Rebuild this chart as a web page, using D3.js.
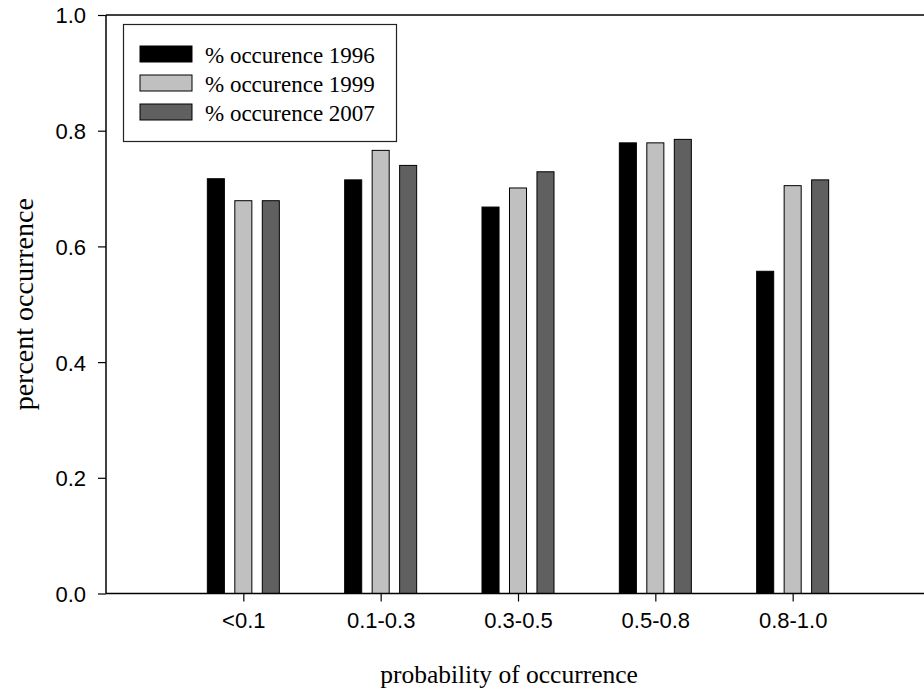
<!DOCTYPE html>
<meta charset="utf-8">
<title>percent occurrence</title>
<style>
body { margin: 0; background: #fff; }
svg { display: block; }
</style>
<body>
<div id="graph"></div>
</body>
<script src="https://cdn.jsdelivr.net/npm/d3@7"></script>
<script>

var categories = ['<0.1', '0.1-0.3', '0.3-0.5', '0.5-0.8', '0.8-1.0'],
    series = ['% occurence 1996', '% occurence 1999', '% occurence 2007'],
    colors = ['#000000', '#c0c0c0', '#606060'],
    yTicks = [0, 0.2, 0.4, 0.6, 0.8, 1.0]

var occ1996 = [0.717, 0.715, 0.668, 0.779, 0.557],
    occ1999 = [0.679, 0.766, 0.701, 0.779, 0.705],
    occ2007 = [0.679, 0.740, 0.729, 0.785, 0.715]

var values = [occ1996, occ1999, occ2007]

var SANS = '"Liberation Sans", Arial, sans-serif',
    SERIF = '"Liberation Serif", "Times New Roman", serif'

var W = 924, H = 692,
    margin = {left: 106, top: 15, right: -6, bottom: 98.5},
    width = W - margin.left - margin.right,
    height = H - margin.top - margin.bottom

var svg = d3.select('#graph').append('svg')
    .attr('width', W).attr('height', H)

var g = svg.append('g')
    .attr('transform', 'translate(' + margin.left + ',' + margin.top + ')')

var x = d3.scalePoint().domain(categories).range([0, width]).padding(1)
var xs = d3.scaleBand().domain(series).range([-36, 36]).paddingInner(0.38)
var y = d3.scaleLinear().domain([0, 1]).range([height, 0])

// bars
series.forEach(function(s, si){
  g.selectAll('rect.s' + si)
    .data(values[si])
    .enter().append('rect')
      .attr('class', 's' + si)
      .attr('x', function(d, i){ return x(categories[i]) + xs(s) })
      .attr('width', xs.bandwidth())
      .attr('y', function(d){ return y(d) })
      .attr('height', function(d){ return height - y(d) })
      .attr('fill', colors[si])
      .attr('stroke', '#000')
      .attr('stroke-width', 1)
})

// frame: top line, left and bottom axes
g.append('line').attr('x1', 0).attr('x2', width).attr('y1', 0).attr('y2', 0)
  .attr('stroke', '#000').attr('stroke-width', 1.5)

var yAxis = g.append('g')
  .call(d3.axisLeft(y).tickValues(yTicks).tickFormat(d3.format('.1f')).tickSize(8).tickPadding(12))
var xAxis = g.append('g')
  .attr('transform', 'translate(0,' + height + ')')
  .call(d3.axisBottom(x).tickSize(8).tickPadding(11))

g.selectAll('.domain').remove()
yAxis.append('line').attr('y1', 0).attr('y2', height).attr('stroke', '#000').attr('stroke-width', 1.5)
xAxis.append('line').attr('x1', 0).attr('x2', width).attr('stroke', '#000').attr('stroke-width', 1.5)
g.selectAll('.tick line').attr('stroke', '#000').attr('stroke-width', 1.2)
g.selectAll('.tick text').attr('font-family', SANS).attr('font-size', 22).attr('fill', '#000')
yAxis.selectAll('.tick text').attr('dy', '0.36em')

// titles
svg.append('text')
  .attr('x', 509).attr('y', 683)
  .attr('text-anchor', 'middle').attr('font-family', SERIF).attr('font-size', 25.5)
  .text('probability of occurrence')

svg.append('text')
  .attr('transform', 'translate(33,' + (margin.top + height / 2) + ') rotate(-90)')
  .attr('text-anchor', 'middle').attr('font-family', SERIF).attr('font-size', 28)
  .text('percent occurrence')

// legend
var lg = svg.append('g').attr('transform', 'translate(123.5,24.5)')
lg.append('rect').attr('width', 273).attr('height', 117)
  .attr('fill', '#fff').attr('stroke', '#222').attr('stroke-width', 1.2)

var item = lg.selectAll('g.item').data(series).enter().append('g')
  .attr('class', 'item')
  .attr('transform', function(d, i){ return 'translate(0,' + (29.5 + i * 29) + ')' })
item.append('rect').attr('x', 16.5).attr('y', -8).attr('width', 52).attr('height', 16)
  .attr('fill', function(d, i){ return colors[i] }).attr('stroke', '#000').attr('stroke-width', 1)
item.append('text').attr('x', 81.5).attr('y', 8.5)
  .attr('font-family', SERIF).attr('font-size', 23).attr('fill', '#000')
  .text(function(d){ return d })

</script>
